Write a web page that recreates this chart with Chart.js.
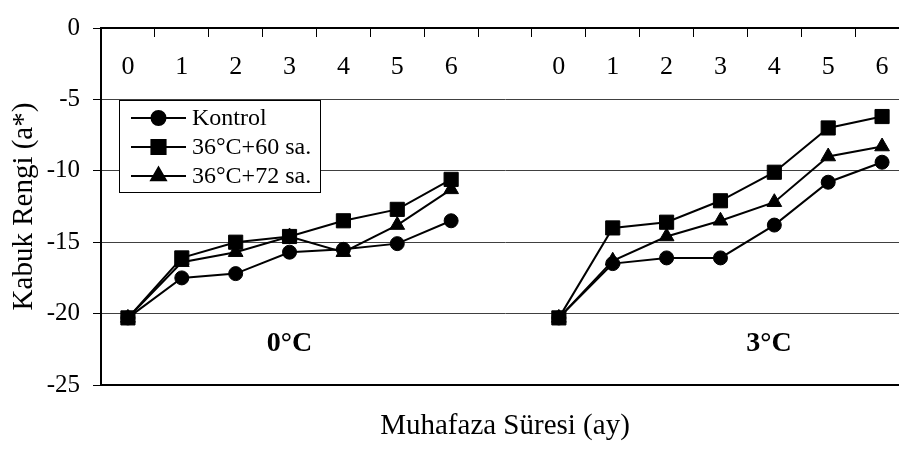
<!DOCTYPE html>
<html lang="tr">
<head>
<meta charset="utf-8">
<title>Kabuk Rengi (a*)</title>
<script src="https://cdn.jsdelivr.net/npm/chart.js@4.4.1/dist/chart.umd.min.js"></script>
<style>
    html, body { margin: 0; padding: 0; background: #fff; overflow: hidden; }
    #grafico { display: block; }
</style>
</head>
<body>
<canvas id="grafico" width="925" height="451"></canvas>
<script>
// Eje X: meses 0-6 a 0°C, hueco, meses 0-6 a 3°C
const etiquetas = ['0', '1', '2', '3', '4', '5', '6', '', '0', '1', '2', '3', '4', '5', '6'];

// Valores (a*)
const kontrol0C = [-20.3, -17.5, -17.2, -15.7, -15.5, -15.1, -13.5];
const kontrol3C = [-20.3, -16.5, -16.1, -16.1, -13.8, -10.8, -9.4];
const sa60_0C = [-20.3, -16.1, -15.0, -14.6, -13.5, -12.7, -10.6];
const sa60_3C = [-20.3, -14.0, -13.6, -12.1, -10.1, -7.0, -6.2];
const sa72_0C = [-20.3, -16.4, -15.7, -14.6, -15.7, -13.8, -11.3];
const sa72_3C = [-20.3, -16.3, -14.6, -13.5, -12.2, -9.0, -8.3];

const nombresSeries = ['Kontrol', '36°C+60 sa.', '36°C+72 sa.'];
const ticksY = [0, -5, -10, -15, -20, -25];

// Textos de los grupos (posicion en categoria y valor)
const rotulos = [
    { texto: '0°C', x: 3, y: -22.1 },
    { texto: '3°C', x: 11.9, y: -22.1 }
];

const fuente = "'Liberation Serif', 'Times New Roman', serif";

function unirGrupos(a, b) {
    return a.concat([null], b);
}

// Leyenda con linea y marcador, como en el original
const leyendaPlugin = {
    id: 'leyendaCaja',
    afterDatasetsDraw: function(chart) {
        const ctx = chart.ctx;
        ctx.save();
        ctx.fillStyle = '#fff';
        ctx.strokeStyle = '#000';
        ctx.lineWidth = 1;
        ctx.fillRect(119.5, 100.5, 201, 92);
        ctx.strokeRect(119.5, 100.5, 201, 92);

        const filas = [118, 147, 176];
        chart.data.datasets.forEach(function(ds, i) {
            const y = filas[i];
            ctx.strokeStyle = '#000';
            ctx.lineWidth = 2;
            ctx.beginPath();
            ctx.moveTo(131, y);
            ctx.lineTo(186, y);
            ctx.stroke();
            ctx.fillStyle = '#000';
            Chart.helpers.drawPoint(ctx, {
                pointStyle: ds.pointStyle,
                radius: ds.pointRadius,
                rotation: 0,
                borderWidth: 1
            }, 158.5, y);
            ctx.fill();
            ctx.fillStyle = '#000';
            ctx.font = '24px ' + fuente;
            ctx.textAlign = 'left';
            ctx.textBaseline = 'middle';
            ctx.fillText(ds.label, 192, y + 1);
        });
        ctx.restore();
    }
};

const rotulosPlugin = {
    id: 'rotulosGrupo',
    afterDatasetsDraw: function(chart) {
        const ctx = chart.ctx;
        const x = chart.scales.x;
        const y = chart.scales.y;
        ctx.save();
        ctx.fillStyle = '#000';
        ctx.font = 'bold 28px ' + fuente;
        ctx.textAlign = 'center';
        ctx.textBaseline = 'middle';
        rotulos.forEach(function(r) {
            ctx.fillText(r.texto, x.getPixelForValue(r.x), y.getPixelForValue(r.y));
        });
        ctx.restore();
    }
};

function crearGrafico() {
    const ctx = document.getElementById('grafico').getContext('2d');
    Chart.defaults.color = '#000';
    Chart.defaults.font.family = fuente;

    new Chart(ctx, {
        type: 'line',
        data: {
            labels: etiquetas,
            datasets: [
                {
                    label: nombresSeries[0],
                    data: unirGrupos(kontrol0C, kontrol3C),
                    pointStyle: 'circle',
                    pointRadius: 7,
                    order: 2
                },
                {
                    label: nombresSeries[1],
                    data: unirGrupos(sa60_0C, sa60_3C),
                    pointStyle: 'rect',
                    pointRadius: 10,
                    order: 0
                },
                {
                    label: nombresSeries[2],
                    data: unirGrupos(sa72_0C, sa72_3C),
                    pointStyle: 'triangle',
                    pointRadius: 8.5,
                    order: 1
                }
            ].map(function(ds) {
                ds.borderColor = '#000';
                ds.borderWidth = 2;
                ds.backgroundColor = '#000';
                ds.pointBackgroundColor = '#000';
                ds.pointBorderColor = '#000';
                ds.pointBorderWidth = 1;
                ds.pointHoverRadius = ds.pointRadius;
                ds.tension = 0;
                ds.spanGaps = false;
                ds.clip = false;
                return ds;
            })
        },
        options: {
            responsive: false,
            animation: false,
            layout: { padding: { left: 0, top: 16, right: 16, bottom: 0 } },
            plugins: {
                legend: { display: false },
                tooltip: { enabled: false }
            },
            scales: {
                x: {
                    type: 'category',
                    axis: 'x',
                    position: { y: 0 },
                    offset: true,
                    grid: {
                        offset: true,
                        drawOnChartArea: false,
                        drawTicks: true,
                        tickLength: 8,
                        color: '#000',
                        lineWidth: 1
                    },
                    border: { display: true, color: '#000', width: 2 },
                    ticks: {
                        font: { size: 26 },
                        padding: 16,
                        maxRotation: 0,
                        autoSkip: false
                    }
                },
                x2: {
                    type: 'category',
                    axis: 'x',
                    position: 'bottom',
                    display: true,
                    offset: true,
                    grid: { display: false, drawTicks: false },
                    border: { display: true, color: '#000', width: 2 },
                    ticks: { display: false },
                    title: {
                        display: true,
                        text: 'Muhafaza Süresi (ay)',
                        font: { size: 29 },
                        padding: { top: 4, bottom: 7 }
                    },
                    afterFit: function(escala) {
                        escala.height = 66;
                    }
                },
                y: {
                    min: -25,
                    max: 0,
                    afterBuildTicks: function(escala) {
                        escala.ticks = ticksY.map(function(v) { return { value: v }; });
                    },
                    grid: {
                        color: '#404040',
                        lineWidth: 1,
                        drawTicks: true,
                        tickLength: 8,
                        tickColor: '#000'
                    },
                    border: { display: true, color: '#000', width: 2 },
                    ticks: {
                        font: { size: 25 },
                        padding: 13
                    },
                    title: {
                        display: true,
                        text: 'Kabuk Rengi (a*)',
                        font: { size: 29 },
                        padding: { top: 7, bottom: 0 }
                    },
                    afterFit: function(escala) {
                        escala.width = 101;
                    }
                }
            }
        },
        plugins: [leyendaPlugin, rotulosPlugin]
    });
}

crearGrafico();
</script>
</body>
</html>
